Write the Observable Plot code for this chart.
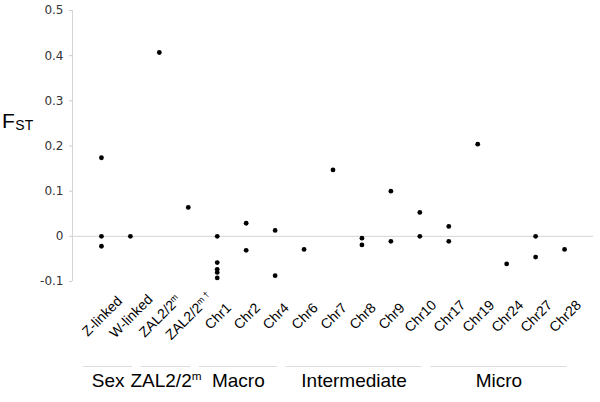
<!DOCTYPE html>
<html><head><meta charset="utf-8">
<script src="https://cdn.jsdelivr.net/npm/d3@7"></script>
<script src="https://cdn.jsdelivr.net/npm/@observablehq/plot@0.6"></script>
<style>body{margin:0;background:#fff;} svg{display:block;}</style>
</head><body><div id="chart"></div>
<script>
const categories = ["Z-linked","W-linked","ZAL2/2^m","ZAL2/2^m †","Chr1","Chr2","Chr4","Chr6","Chr7","Chr8","Chr9","Chr10","Chr17","Chr19","Chr24","Chr27","Chr28"];
const fstValues = [
  [0.174, 0, -0.022],
  [0],
  [0.407],
  [0.064],
  [0, -0.058, -0.073, -0.080, -0.092],
  [0.029, -0.031],
  [0.013, -0.087],
  [-0.029],
  [0.147],
  [-0.004, -0.019],
  [0.1, -0.011],
  [0.053, 0],
  [0.022, -0.011],
  [0.204],
  [-0.061],
  [0, -0.046],
  [-0.029]
];
const groupNames = ["Sex","ZAL2/2^m","Macro","Intermediate","Micro"];
const groupFirst = [0,2,4,7,12];
const groupLast = [1,3,6,11,16];
const yTicks = [-0.1,0,0.1,0.2,0.3,0.4,0.5];

const points = fstValues.flatMap((vals, i) => vals.map(v => ({i, v})));
const idx = categories.map((d, i) => i);
const gc = (d, i) => (groupFirst[i] + groupLast[i]) / 2 - 0.27;
const gx1 = (d, i) => gc(d, i) - (groupLast[i] - groupFirst[i] + 0.7) / 2;
const gx2 = (d, i) => gc(d, i) + (groupLast[i] - groupFirst[i] + 0.7) / 2;

const chart = Plot.plot({
  width: 600, height: 402,
  marginLeft: 72, marginRight: 7, marginTop: 10, marginBottom: 121,
  style: {fontFamily: "'Liberation Sans', Arial, sans-serif", background: "#fff"},
  x: {domain: [-1, 17], axis: null},
  y: {domain: [-0.1, 0.5], axis: null},
  marks: [
    Plot.ruleY([0], {stroke: "#d4d4d4", strokeWidth: 1}),
    Plot.ruleX([-1], {stroke: "#d4d4d4", strokeWidth: 1}),
    Plot.axisY({ticks: yTicks, tickSize: 3, tickPadding: 6, tickFormat: d => String(d),
      stroke: "#ccc", fill: "#333", color: "#333", fontSize: 12, fontFamily: "'DejaVu Sans', Verdana, sans-serif", label: null}),
    Plot.dot(points, {x: "i", y: "v", r: 2.4, fill: "#000", stroke: null}),
    Plot.text(categories, {x: idx, text: d => d, frameAnchor: "bottom", dx: 4, dy: 38, rotate: -45,
      textAnchor: "middle", fontSize: 14, fill: "#000"}),
    Plot.ruleY(groupNames, {y: () => -0.1, x1: gx1, x2: gx2, dy: 85, stroke: "#dcdcdc", strokeWidth: 1}),
    Plot.text(groupNames, {x: gc, text: d => d, frameAnchor: "bottom",
      dy: 105, fontSize: 19, fill: "#000", textAnchor: "middle"})
  ]
});

// superscripts written as "^"
d3.select(chart).selectAll("text").each(function() {
  const t = this.textContent;
  if (t.includes("^")) {
    const [base, sup] = t.split("^");
    this.textContent = base;
    d3.select(this).append("tspan").attr("dy", "-0.55em").attr("font-size", "0.62em").text(sup);
  }
});

// F_ST axis label
const lab = d3.select(chart).append("text")
  .attr("x", 2).attr("y", 128).attr("text-anchor", "start")
  .attr("font-family", "'Liberation Sans', Arial, sans-serif")
  .attr("font-size", 21).attr("fill", "#000");
lab.append("tspan").text("F");
lab.append("tspan").attr("dx", 0.5).attr("dy", 2).attr("font-size", 14).text("ST");

document.getElementById("chart").append(chart);
</script>
</body></html>
